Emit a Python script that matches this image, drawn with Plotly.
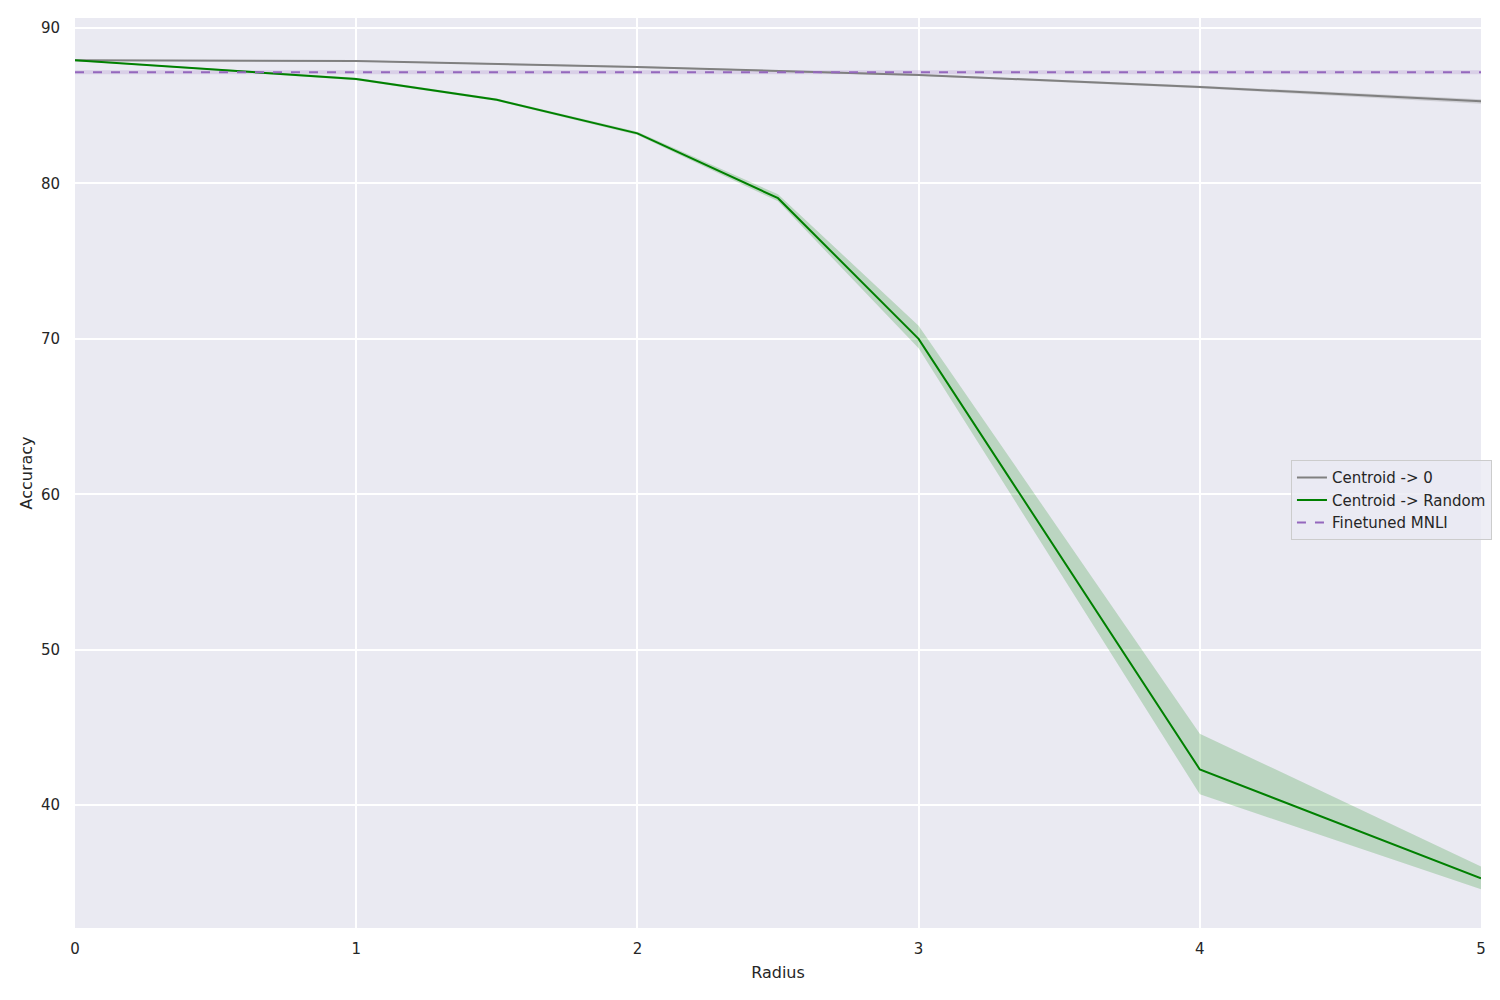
import plotly.graph_objects as go

radius_zero = [0, 1, 2, 3, 4, 5]
acc_zero = [87.92, 87.88, 87.48, 86.98, 86.2, 85.28]
acc_zero_lo = [87.88, 87.84, 87.42, 86.92, 86.12, 85.12]
acc_zero_hi = [87.96, 87.92, 87.54, 87.04, 86.28, 85.42]

radius_rand = [0, 1, 1.5, 2, 2.5, 3, 4, 5]
acc_rand = [87.92, 86.72, 85.38, 83.22, 79.05, 70.0, 42.3, 35.3]
acc_rand_lo = [87.88, 86.64, 85.30, 83.12, 78.85, 69.4, 40.7, 34.6]
acc_rand_hi = [87.96, 86.80, 85.46, 83.32, 79.30, 70.85, 44.6, 36.05]

mnli_acc = 87.15
mnli_lo = 87.02
mnli_hi = 87.28
x_range = [0, 5]

fig = go.Figure()

def band(x, lo, hi, color):
    fig.add_trace(go.Scatter(x=x, y=hi, mode="lines", line=dict(width=0), showlegend=False, hoverinfo="skip"))
    fig.add_trace(go.Scatter(x=x, y=lo, mode="lines", line=dict(width=0), fill="tonexty",
                             fillcolor=color, showlegend=False, hoverinfo="skip"))

band(x_range, [mnli_lo, mnli_lo], [mnli_hi, mnli_hi], "rgba(148,103,189,0.2)")
band(radius_zero, acc_zero_lo, acc_zero_hi, "rgba(128,128,128,0.25)")
band(radius_rand, acc_rand_lo, acc_rand_hi, "rgba(0,128,0,0.2)")

fig.add_trace(go.Scatter(x=radius_zero, y=acc_zero, mode="lines", name="Centroid -> 0",
                         line=dict(color="gray", width=2)))
fig.add_trace(go.Scatter(x=radius_rand, y=acc_rand, mode="lines", name="Centroid -> Random",
                         line=dict(color="green", width=2)))
fig.add_trace(go.Scatter(x=x_range, y=[mnli_acc, mnli_acc], mode="lines", name="Finetuned MNLI",
                         line=dict(color="#9467bd", width=2, dash="dash")))

fig.update_layout(
    width=1500, height=1000,
    margin=dict(l=67, r=27, t=10, b=80, autoexpand=False),
    paper_bgcolor="white", plot_bgcolor="#eaeaf2",
    font=dict(family="DejaVu Sans", size=15, color="#262626"),
    legend=dict(x=1.0078, xanchor="right", y=0.47, yanchor="middle", traceorder="normal",
                bgcolor="rgba(234,234,242,0.8)", bordercolor="#cccccc", borderwidth=1,
                font=dict(size=15), tracegroupgap=2),
    xaxis=dict(range=[0, 5], tickvals=[0, 1, 2, 3, 4, 5], showgrid=True, gridcolor="white",
               gridwidth=1.5, zeroline=False, showline=False, ticks="", ticklabelstandoff=10,
               title=dict(text="Radius", font=dict(size=16), standoff=9)),
    yaxis=dict(range=[32.1, 90.64], tickvals=[40, 50, 60, 70, 80, 90], showgrid=True,
               gridcolor="white", gridwidth=1.5, zeroline=False, showline=False, ticks="",
               ticklabelstandoff=14,
               title=dict(text="Accuracy", font=dict(size=16), standoff=4)),
)

fig.write_html("out.html")
